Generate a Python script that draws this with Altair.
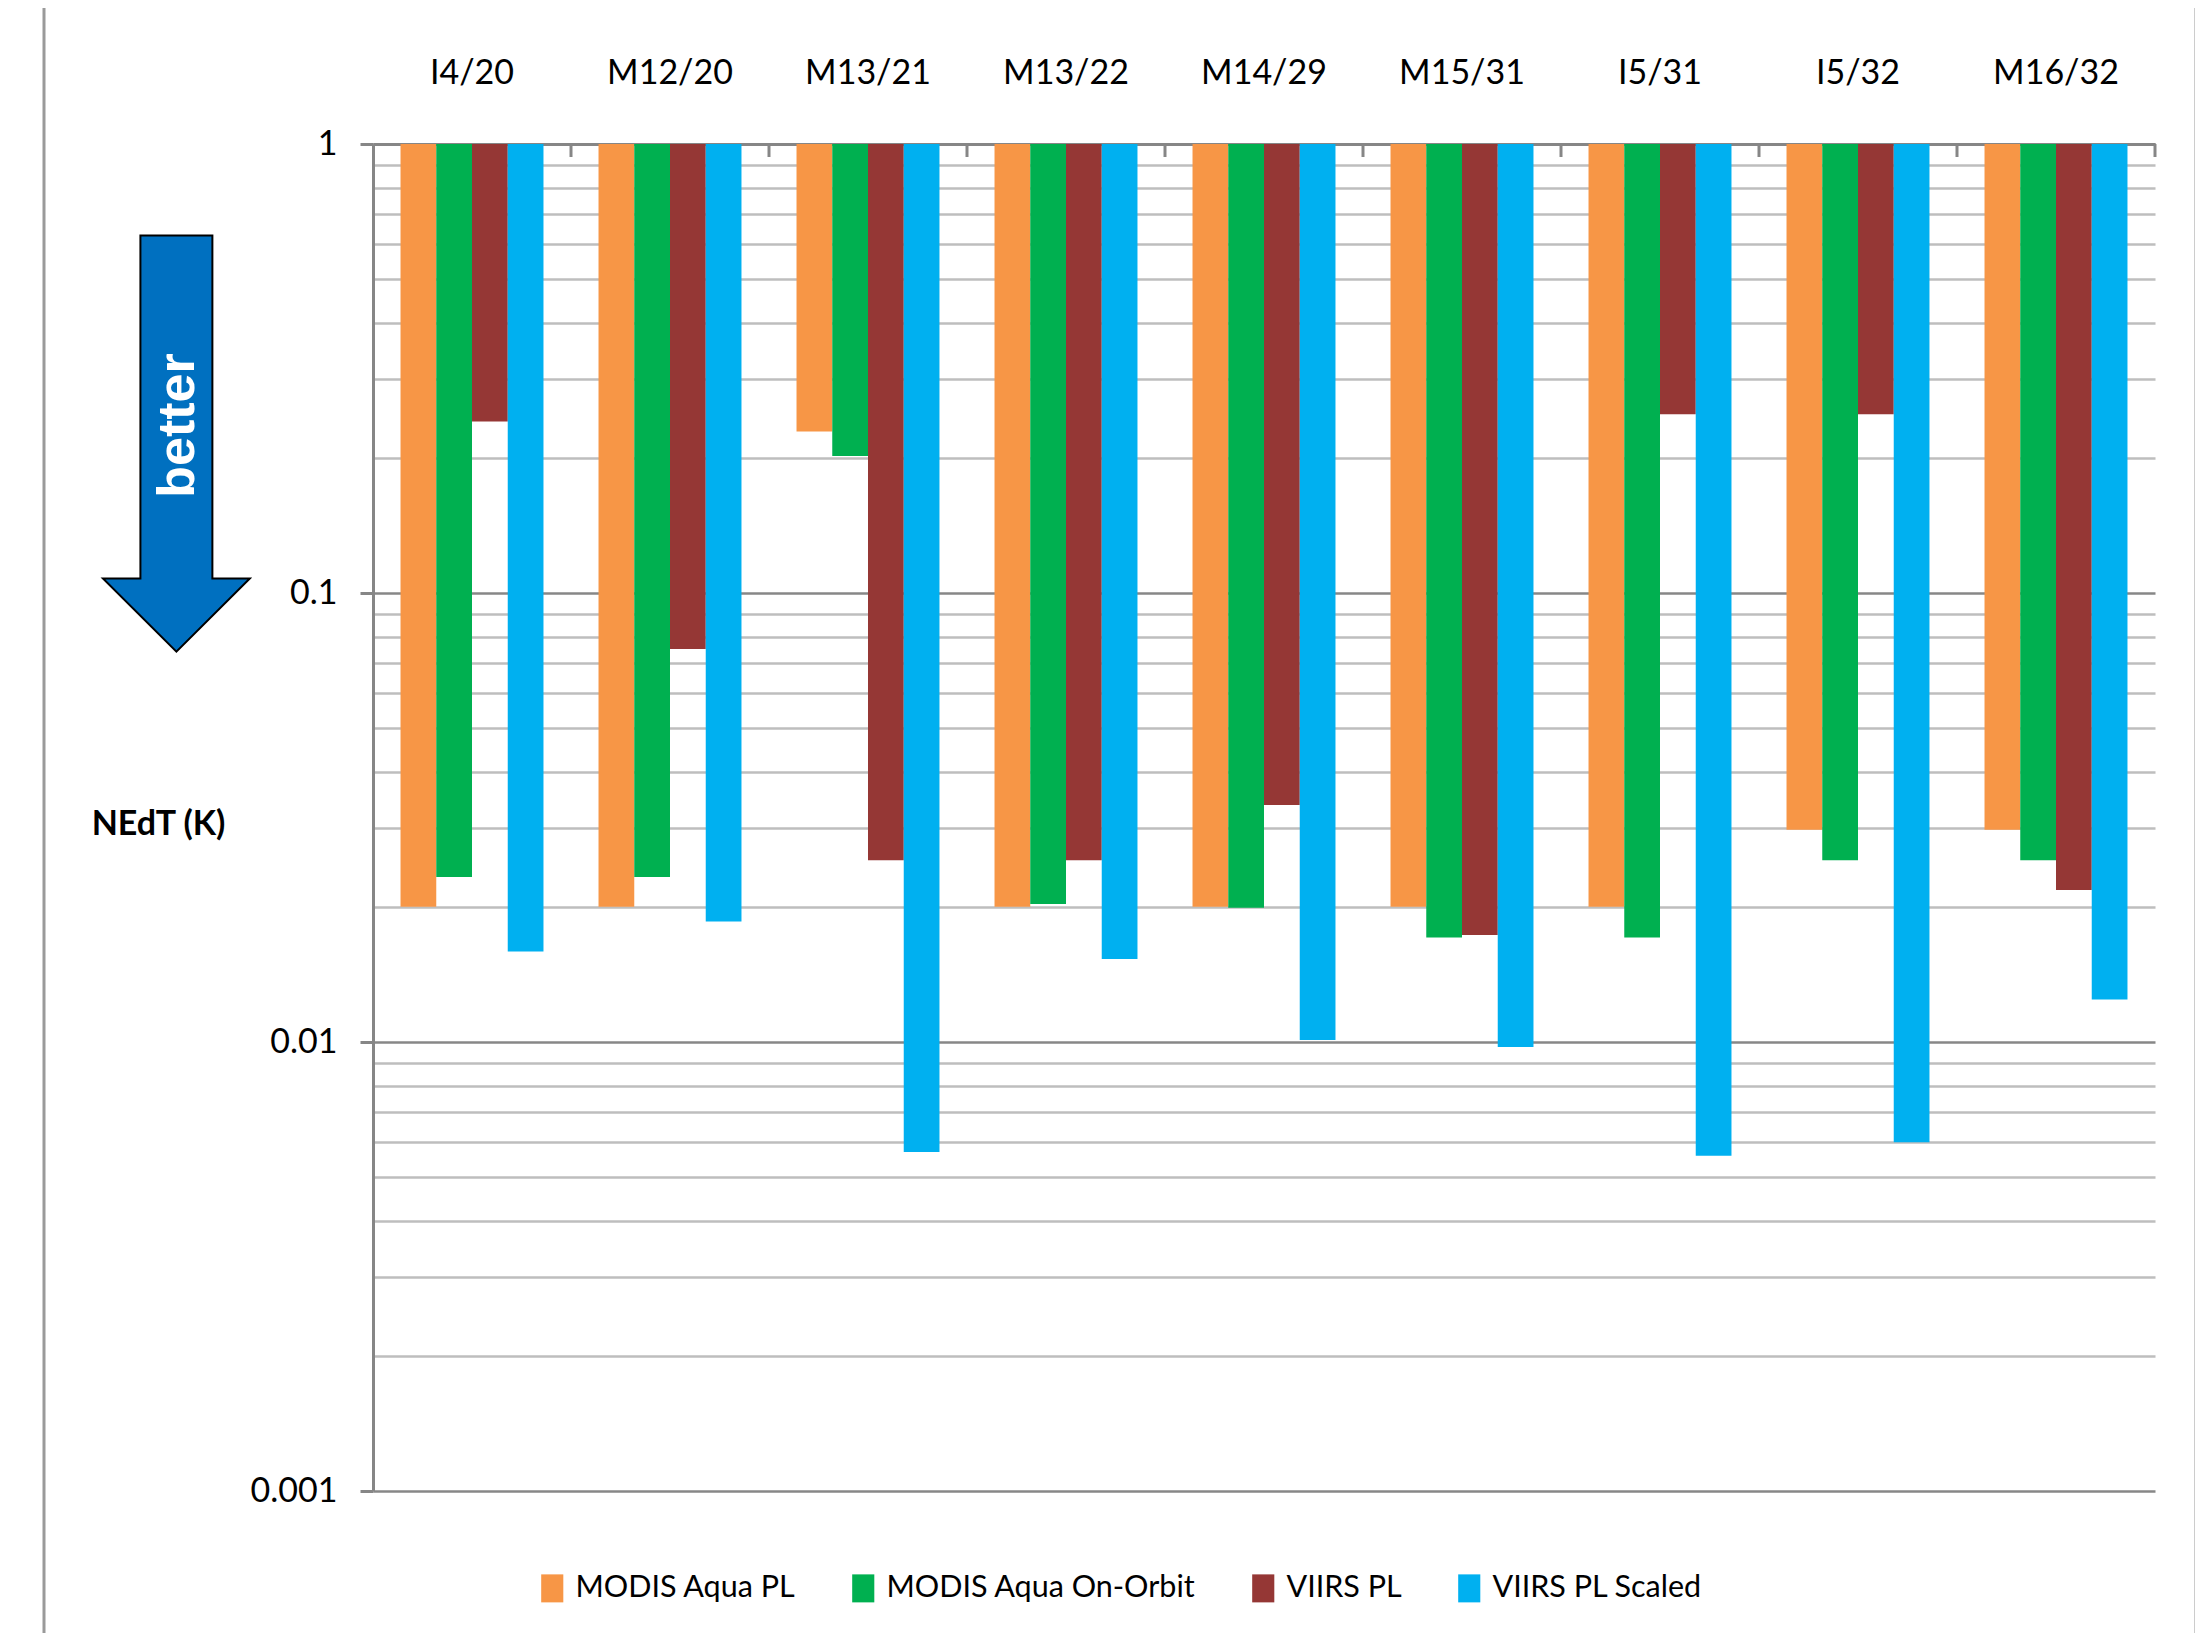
import altair as alt
import pandas as pd

# ---- data ----
categories = ["I4/20", "M12/20", "M13/21", "M13/22", "M14/29", "M15/31", "I5/31", "I5/32", "M16/32"]
series = ["MODIS Aqua PL", "MODIS Aqua On-Orbit", "VIIRS PL", "VIIRS PL Scaled"]
colors = ["#F79646", "#00B050", "#953735", "#00B0F0"]

modis_pl = [0.020, 0.020, 0.229, 0.020, 0.020, 0.020, 0.020, 0.0297, 0.0297]
modis_orbit = [0.0233, 0.0233, 0.202, 0.0203, 0.0199, 0.0171, 0.0171, 0.0254, 0.0254]
viirs_pl = [0.241, 0.075, 0.0254, 0.0254, 0.0337, 0.0173, 0.250, 0.250, 0.0218]
viirs_scaled = [0.0159, 0.01855, 0.00569, 0.0153, 0.0101, 0.00975, 0.00558, 0.00598, 0.01243]

y_grid = [0.001, 0.002, 0.003, 0.004, 0.005, 0.006, 0.007, 0.008, 0.009,
          0.01, 0.02, 0.03, 0.04, 0.05, 0.06, 0.07, 0.08, 0.09,
          0.1, 0.2, 0.3, 0.4, 0.5, 0.6, 0.7, 0.8, 0.9, 1]

arrow_text = ["better"]
y_title = "NEdT (K)"

rows = []
for s, vals in zip(series, [modis_pl, modis_orbit, viirs_pl, viirs_scaled]):
    for c, v in zip(categories, vals):
        rows.append({"category": c, "series": s, "value": v, "top": 1.0})
df = pd.DataFrame(rows)
cat_df = pd.DataFrame({"category": categories})
one = pd.DataFrame({"label": arrow_text})

major_test = "abs(log(datum.value)/LN10 - round(log(datum.value)/LN10)) < 0.000001"

x_axis = alt.Axis(orient="top", title=None, labelAngle=0, labelFont="Lato", labelFontSize=34,
                  labelColor="black", labelPadding=61, labelBaseline="alphabetic",
                  ticks=False, tickSize=0, domainColor="#868686", domainWidth=3, grid=False)

y_axis = alt.Axis(
    values=y_grid, format="~g",
    labelExpr=major_test + " ? datum.label : ''",
    grid=True,
    gridColor={"condition": {"test": major_test, "value": "#878787"}, "value": "#BEBEBE"},
    gridWidth=2.5,
    tickColor="#868686", tickWidth=3, tickSize=13,
    tickOpacity={"condition": {"test": major_test, "value": 1}, "value": 0},
    domainColor="#868686", domainWidth=3,
    labelFont="Lato", labelFontSize=34, labelColor="black", labelPadding=23,
    labelOverlap=False,
    title=y_title, titleAngle=0, titleX=-215, titleY=680, titleAlign="center",
    titleBaseline="middle", titleFont="Lato", titleFontWeight="bold", titleFontSize=34,
    titleColor="black",
)

legend = alt.Legend(orient="none", legendX=164, legendY=1429, direction="horizontal", title=None,
                    symbolType="M-0.79,-1H0.79V1H-0.79Z", symbolSize=784, symbolStrokeWidth=0,
                    labelFont="Lato", labelFontSize=30.5, labelColor="black", labelOffset=8,
                    columnPadding=52, padding=0, labelLimit=0)

bars = alt.Chart(df).mark_bar().encode(
    x=alt.X("category:N", sort=categories, scale=alt.Scale(paddingInner=0, paddingOuter=0), axis=x_axis),
    xOffset=alt.XOffset("series:N", sort=series, scale=alt.Scale(paddingInner=0, paddingOuter=0.77)),
    y=alt.Y("value:Q", scale=alt.Scale(type="log", domain=[0.001, 1], nice=False), axis=y_axis),
    y2="top:Q",
    color=alt.Color("series:N", sort=series, scale=alt.Scale(domain=series, range=colors), legend=legend),
)

ticks = alt.Chart(cat_df).mark_rule(color="#868686", strokeWidth=3).encode(
    x=alt.X("category:N", sort=categories, bandPosition=1),
    y=alt.value(0), y2=alt.value(13),
)

frame_l = alt.Chart(one).mark_rule(color="#9A9A9A", strokeWidth=3).encode(
    x=alt.value(-329), y=alt.value(-144), y2=alt.value(1500))
frame_r = alt.Chart(one).mark_rule(color="#9A9A9A", strokeWidth=3).encode(
    x=alt.value(1823), y=alt.value(-144), y2=alt.value(1500))

arrow_path = "M-0.173,-1 L0.173,-1 L0.173,0.648 L0.353,0.648 L0,1 L-0.353,0.648 L-0.173,0.648 Z"
arrow = alt.Chart(one).mark_point(shape=arrow_path, size=173056, filled=True, fill="#0070C0",
                                  stroke="black", strokeWidth=2, opacity=1).encode(
    x=alt.value(-196.6), y=alt.value(299.6))

arrow_label = alt.Chart(one).mark_text(angle=270, font="Liberation Sans", fontWeight="bold",
                                       fontSize=52, color="white", align="center",
                                       baseline="middle").encode(
    x=alt.value(-195.5), y=alt.value(281.5), text="label:N")

chart = alt.layer(frame_l, frame_r, bars, ticks, arrow, arrow_label).properties(
    width=1782, height=1347,
    autosize=alt.AutoSizeParams(type="none"),
    padding={"left": 365, "top": 136, "right": 40, "bottom": 142},
).configure_view(stroke=None)

chart.save("out.html", embed_options={"renderer": "svg", "actions": False})
